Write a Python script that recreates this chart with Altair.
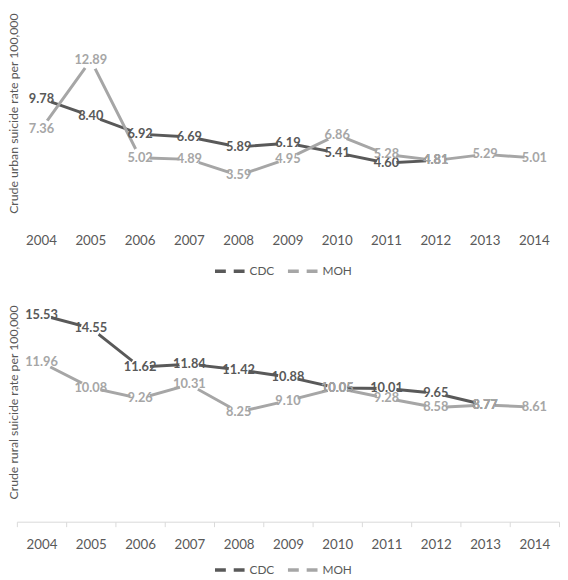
import altair as alt
import pandas as pd

years = [str(y) for y in range(2004, 2015)]
series = ["CDC", "MOH"]
colors = ["#595959", "#A6A6A6"]

urban_cdc = [9.78, 8.40, 6.92, 6.69, 5.89, 6.19, 5.41, 4.60, 4.81, None, None]
urban_moh = [7.36, 12.89, 5.02, 4.89, 3.59, 4.95, 6.86, 5.28, 4.81, 5.29, 5.01]
rural_cdc = [15.53, 14.55, 11.62, 11.84, 11.42, 10.88, 10.05, 10.01, 9.65, 8.77, None]
rural_moh = [11.96, 10.08, 9.26, 10.31, 8.25, 9.10, 10.05, 9.28, 8.58, 8.77, 8.61]

urban_title = "Crude urban suicide rate per 100,000"
rural_title = "Crude rural suicide rate per 100,000"

FONT = "Lato"
TXT = "#595959"


def make_df(cdc, moh):
    rows = []
    for name, vals in zip(series, [cdc, moh]):
        for y, v in zip(years, vals):
            if v is not None:
                rows.append({"year": y, "series": name, "value": v, "label": f"{v:.2f}"})
    return pd.DataFrame(rows)


def panel(cdc, moh, title, ymax, height, rural, legend_y, title_shift):
    df = make_df(cdc, moh)
    if rural:
        xaxis = alt.Axis(title=None, labelAngle=0, labelFont=FONT, labelFontSize=13.5,
                         labelColor=TXT, domain=True, domainColor="#D9D9D9", domainWidth=1,
                         ticks=True, tickColor="#D9D9D9", tickSize=5, tickBand="extent",
                         labelPadding=11, grid=False)
    else:
        xaxis = alt.Axis(title=None, labelAngle=0, labelFont=FONT, labelFontSize=13.5,
                         labelColor=TXT, domain=False, ticks=False, tickSize=0,
                         labelPadding=14, grid=False)
    x = alt.X("year:O", sort=years, bandPosition=0.5,
              scale=alt.Scale(type="band", domain=years, paddingInner=0, paddingOuter=0),
              axis=xaxis)
    y = alt.Y("value:Q", scale=alt.Scale(domain=[0, ymax], nice=False, zero=True),
              axis=alt.Axis(title=title, labels=False, ticks=False, domain=False, grid=False,
                            titleFont=FONT, titleFontSize=12.4, titleFontWeight="normal",
                            titleColor=TXT, titleAngle=-90, titleX=-3,
                            titleY=height / 2 + title_shift,
                            titleAlign="center", titleBaseline="middle"))
    color = alt.Color("series:N", scale=alt.Scale(domain=series, range=colors),
                      legend=alt.Legend(title=None, orient="none", direction="horizontal",
                                        legendX=199, legendY=legend_y,
                                        symbolType="stroke", symbolSize=900,
                                        symbolStrokeWidth=3.5, symbolDash=[11, 8],
                                        labelFont=FONT, labelFontSize=12, labelColor=TXT,
                                        labelOffset=3, columnPadding=6, padding=0))
    base = alt.Chart(df).encode(x=x, y=y)
    layers = []
    for s in series:
        sub = base.transform_filter(alt.datum.series == s)
        layers.append(sub.mark_line(strokeWidth=3).encode(color=color))
        layers.append(sub.mark_point(filled=True, fill="white", stroke=None, opacity=1,
                                     size=415, shape="circle"))
    for s in series:
        sub = base.transform_filter(alt.datum.series == s)
        layers.append(sub.mark_text(font=FONT, fontSize=13, fontWeight="bold",
                                    align="center", baseline="middle")
                      .encode(text="label:N", color=color))
    return alt.layer(*layers).properties(width=550, height=height)


urban = panel(urban_cdc, urban_moh, urban_title, 16.75, 211, False, 246, -3)
rural = panel(rural_cdc, rural_moh, rural_title, 18, 243, True, 275, 0)

chart = (
    alt.vconcat(urban, rural, spacing=4)
    .resolve_legend(color="independent")
    .properties(padding=0, background="white")
    .configure_view(stroke=None)
)

chart.save("out.html", embed_options={"renderer": "svg", "actions": False})
